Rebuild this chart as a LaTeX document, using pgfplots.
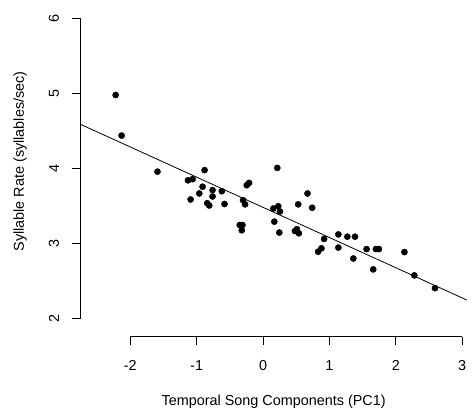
\documentclass[border=0pt]{standalone}
\usepackage{fontspec}
\setmainfont{Liberation Sans}
\usepackage{pgfplots}
\pgfplotsset{compat=1.18}

\begin{document}
\fontsize{14.4bp}{17bp}\selectfont
\begin{tikzpicture}
  \begin{axis}[
      name=ax,
      scale only axis,
      width=386.2bp, height=336.5bp,
      xmin=-2.749, xmax=3.068,
      ymin=1.767, ymax=6.244,
      axis x line*=bottom,
      axis y line*=left,
      axis line style={draw=none},
      clip=false,
      xtick={-2,-1,0,1,2,3},
      ytick={2,3,4,5,6},
      tick align=outside,
      major tick length=8.5bp,
      tick style={black, line width=1bp},
      /pgf/number format/assume math mode=true,
      xticklabel style={anchor=north, inner xsep=0pt, inner ysep=15bp, font=\fontsize{14.4bp}{17bp}\selectfont},
      yticklabel style={rotate=90, anchor=south, inner xsep=0pt, inner ysep=12.7bp, font=\fontsize{14.4bp}{17bp}\selectfont},
      xlabel={Temporal Song Components (PC1)},
      ylabel={Syllable Rate (syllables/sec)},
      xlabel style={at={([yshift=-68.7bp]axis description cs:0.5,0)}, anchor=base, inner sep=0pt},
      ylabel style={at={([xshift=-56.7bp]axis description cs:0,0.52)}, rotate=0, anchor=base, inner sep=0pt},
    ]
    \addplot[black, line width=0.8bp] coordinates {(-2.749,4.59) (3.068,2.253)};
    \addplot[only marks, mark=*, mark size=3.1bp, black] coordinates {
      (-2.22,4.98) (-2.13,4.44) (-1.59,3.96) (-1.13,3.845) (-1.06,3.86)
      (-1.09,3.59) (-0.88,3.98) (-0.91,3.76) (-0.96,3.67) (-0.76,3.715)
      (-0.76,3.63) (-0.84,3.54) (-0.81,3.51) (-0.62,3.70) (-0.58,3.53)
      (-0.35,3.25) (-0.31,3.25) (-0.32,3.18) (-0.30,3.58) (-0.27,3.525)
      (-0.245,3.78) (-0.21,3.81) (0.215,4.01) (0.155,3.47) (0.23,3.50)
      (0.255,3.43) (0.17,3.295) (0.245,3.15) (0.53,3.525) (0.67,3.67)
      (0.74,3.48) (0.48,3.17) (0.51,3.195) (0.54,3.14) (0.92,3.065)
      (0.83,2.895) (0.88,2.94) (1.135,3.125) (1.27,3.095) (1.385,3.095)
      (1.135,2.95) (1.36,2.805) (1.56,2.93) (1.70,2.93) (1.745,2.93)
      (1.66,2.66) (2.13,2.89) (2.28,2.58) (2.59,2.41)
    };
  \end{axis}
  \draw[black, line width=1bp] (ax.south west) ++(49.8bp,0) -- ++(332bp,0);
  \draw[black, line width=1bp] (ax.south west) ++(0,17.5bp) -- ++(0,300.7bp);
  \pgfresetboundingbox
  \path (ax.south west) ++(-80.5bp,-76.5bp) rectangle ++(474bp,413bp);
\end{tikzpicture}
\end{document}
